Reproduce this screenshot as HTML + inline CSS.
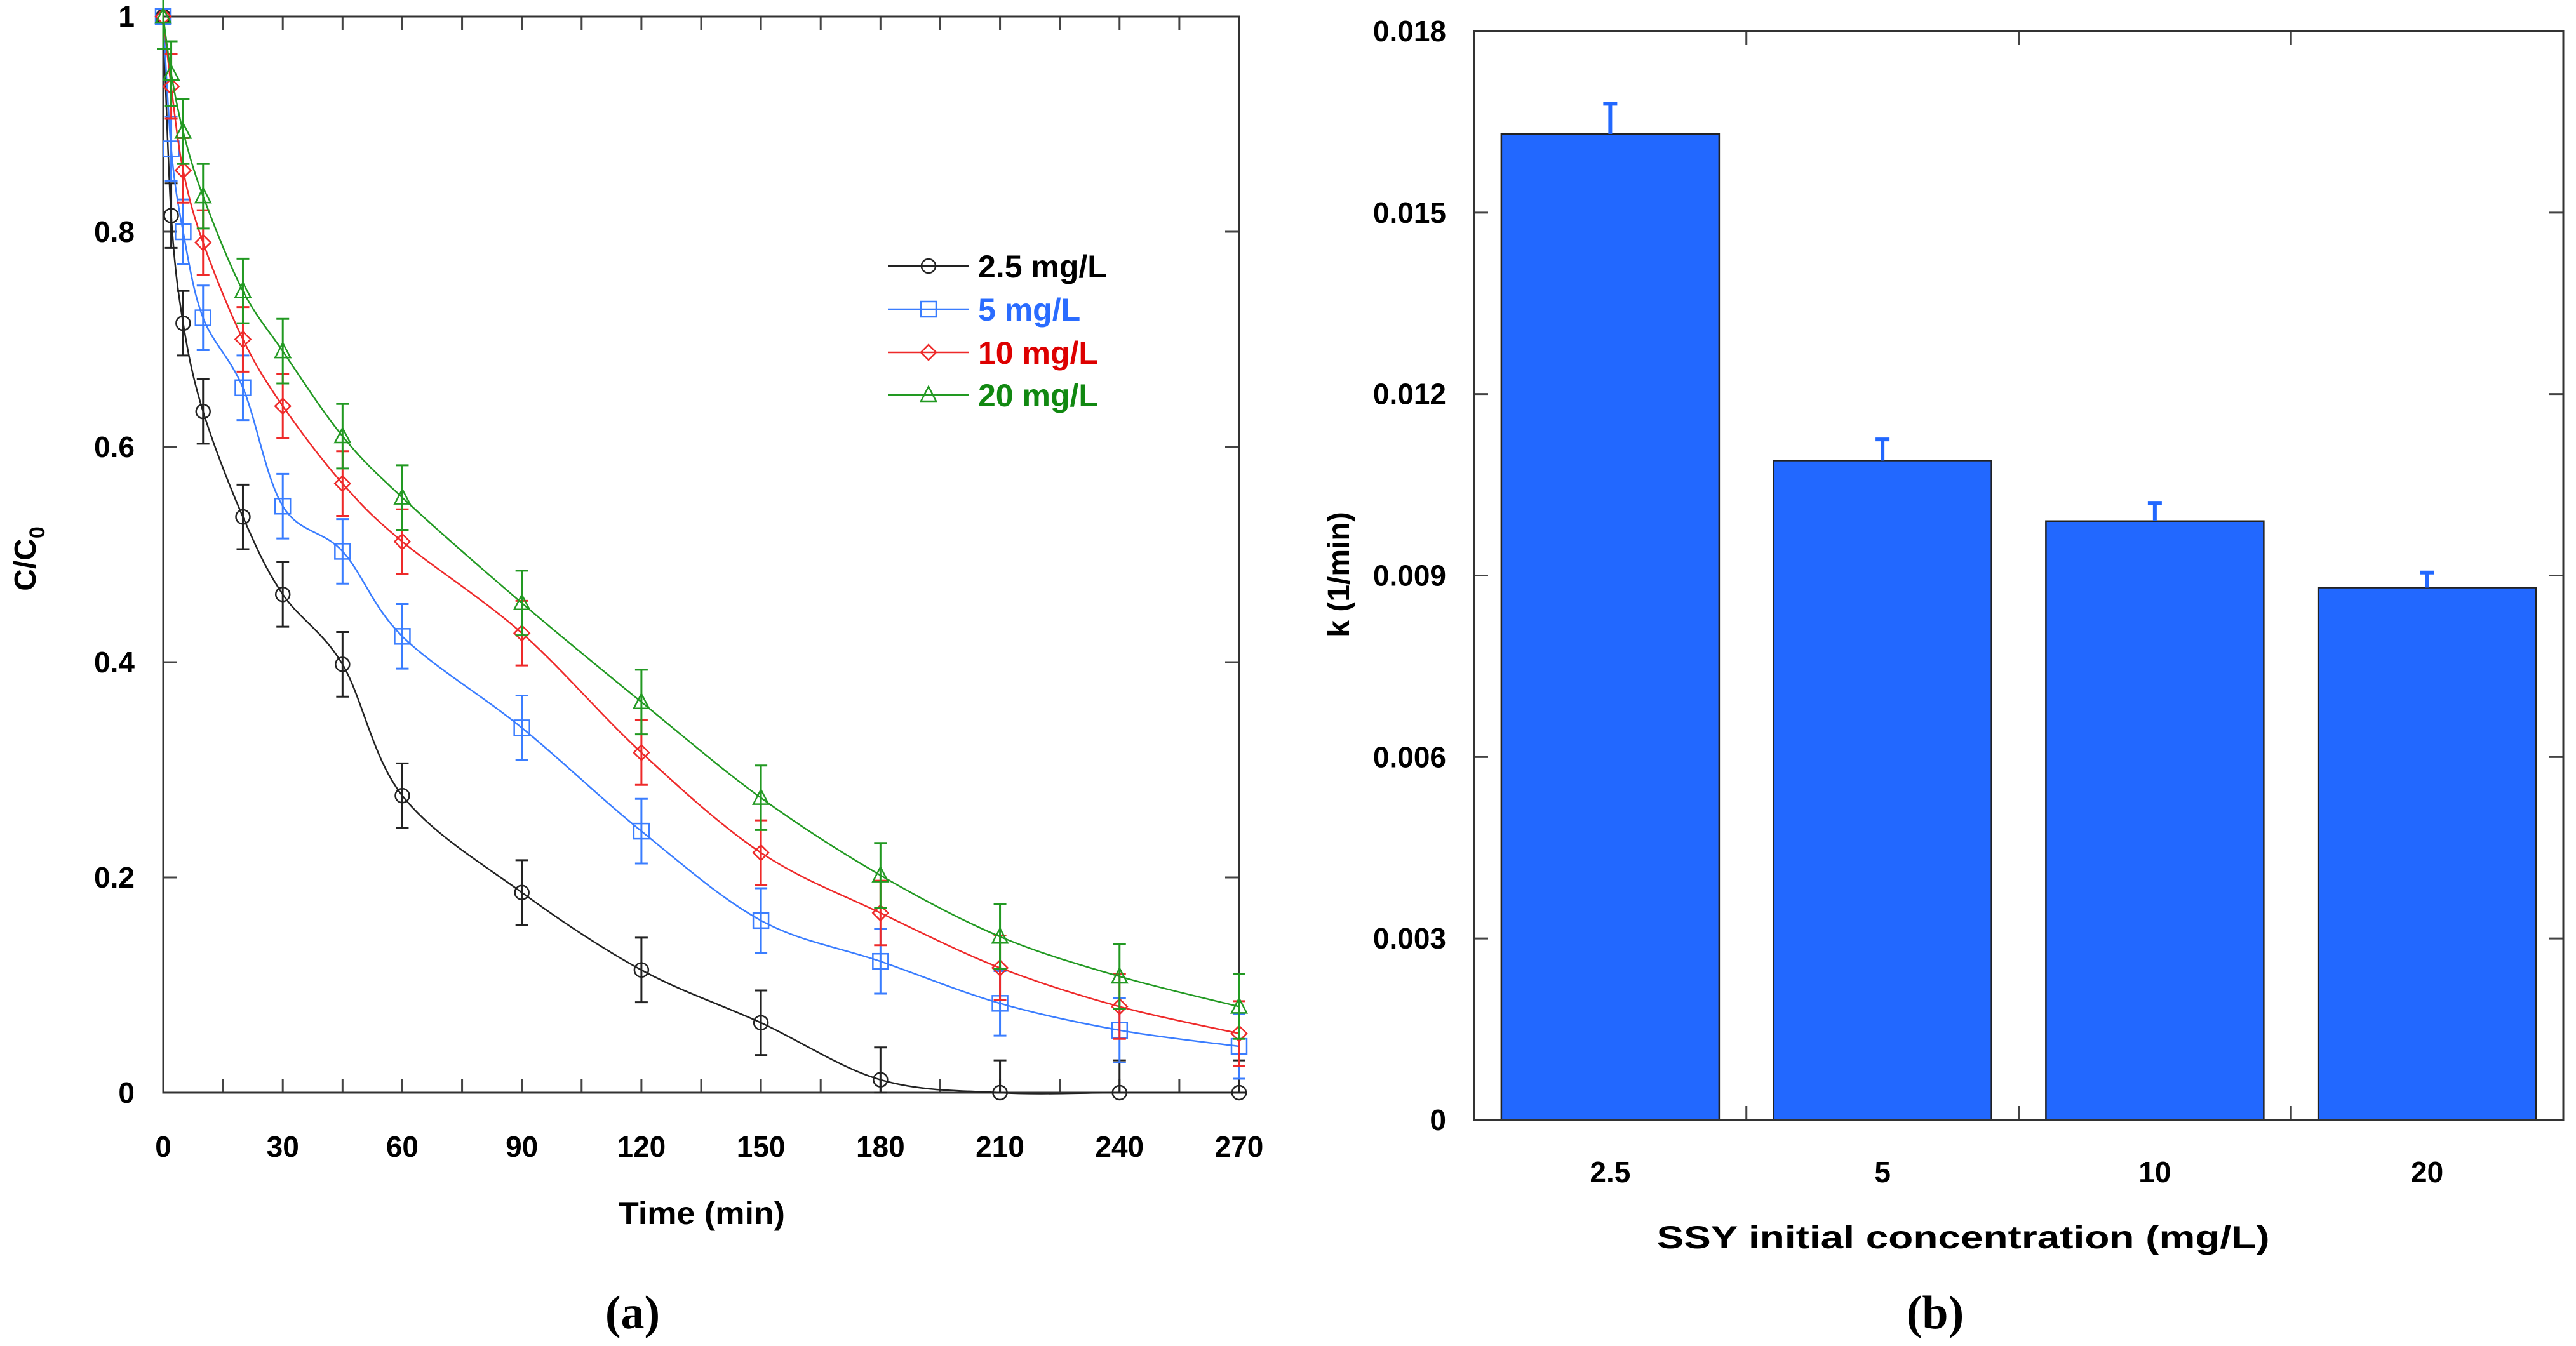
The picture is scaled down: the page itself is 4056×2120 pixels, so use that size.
<!DOCTYPE html>
<html><head><meta charset="utf-8"><style>
html,body{margin:0;padding:0;background:#fff;}
svg{display:block;font-family:"Liberation Sans",Arial,sans-serif;}
</style></head><body>
<svg id="fig" width="4056" height="2120" viewBox="0 0 4056 2120" xmlns="http://www.w3.org/2000/svg">
<g id="chartA"></g>
<g id="chartB"></g>
</svg>
<script>
// ---- Chart (a) data ----
const times = [0, 2, 5, 10, 20, 30, 45, 60, 90, 120, 150, 180, 210, 240, 270];
const series25 = [1, 0.815, 0.715, 0.633, 0.535, 0.463, 0.398, 0.276, 0.186, 0.114, 0.065, 0.012, 0, 0, 0];
const series5 = [1, 0.877, 0.80, 0.72, 0.655, 0.545, 0.503, 0.424, 0.339, 0.243, 0.16, 0.122, 0.083, 0.058, 0.043];
const series10 = [1, 0.935, 0.857, 0.79, 0.70, 0.638, 0.566, 0.512, 0.427, 0.316, 0.223, 0.167, 0.116, 0.080, 0.055];
const series20 = [1, 0.947, 0.893, 0.833, 0.745, 0.689, 0.610, 0.553, 0.455, 0.363, 0.274, 0.202, 0.145, 0.108, 0.080];
const errA = 0.03;
const seriesNames = ["2.5 mg/L", "5 mg/L", "10 mg/L", "20 mg/L"];
const xTicksA = [0, 30, 60, 90, 120, 150, 180, 210, 240, 270];
const yTicksA = [0, 0.2, 0.4, 0.6, 0.8, 1];
// ---- Chart (b) data ----
const categoriesB = ["2.5", "5", "10", "20"];
const valuesB = [0.0163, 0.0109, 0.0099, 0.0088];
const errorsB = [0.0005, 0.00035, 0.0003, 0.00025];
const yTicksB = [0, 0.003, 0.006, 0.009, 0.012, 0.015, 0.018];

const NS = "http://www.w3.org/2000/svg";
function mk(parent, tag, attrs, text) {
  const e = document.createElementNS(NS, tag);
  for (const k in attrs) e.setAttribute(k, attrs[k]);
  if (text !== undefined) e.textContent = text;
  parent.appendChild(e);
  return e;
}

// ===== Chart A =====
const A = document.getElementById('chartA');
const aL = 257, aR = 1951, aT = 26, aB = 1721;
const xA = t => aL + (t / 270) * (aR - aL);
const yA = v => aB - v * (aB - aT);
const colors = ["#222222", "#3a7dff", "#ee2a2a", "#229922"];
const textColors = ["#000000", "#2a6cff", "#dd0000", "#118811"];
const allSeries = [series25, series5, series10, series20];

for (let t = 0; t <= 270; t += 15) {
  const tk = mk(A, 'line', {x1: xA(t), x2: xA(t), y1: aB, y2: aB - 22, stroke: '#444', 'stroke-width': 3});
  
  
  const tk2 = mk(A, 'line', {x1: xA(t), x2: xA(t), y1: aT, y2: aT + 22, stroke: '#444', 'stroke-width': 3});
  
  
}
yTicksA.forEach(v => {
  const l1 = mk(A, 'line', {x1: aL, x2: aL + 22, y1: yA(v), y2: yA(v), stroke: '#444', 'stroke-width': 3});
  
  
  const l2 = mk(A, 'line', {x1: aR, x2: aR - 22, y1: yA(v), y2: yA(v), stroke: '#444', 'stroke-width': 3});
  
  
  const tx = mk(A, 'text', {x: 212, y: yA(v) + 16, 'text-anchor': 'end', 'font-size': 46, 'font-weight': 'bold'}, String(v));
  
  
});
xTicksA.forEach(t => {
  const tx = mk(A, 'text', {x: xA(t), y: 1822, 'text-anchor': 'middle', 'font-size': 46, 'font-weight': 'bold'}, String(t));
  
  
});
const frameA = mk(A, 'rect', {x: aL, y: aT, width: aR - aL, height: aB - aT, fill: 'none', stroke: '#333', 'stroke-width': 3});



function smoothPath(pts) {
  let d = `M${pts[0][0]},${pts[0][1]}`;
  for (let i = 0; i < pts.length - 1; i++) {
    const p0 = pts[i - 1] || pts[i], p1 = pts[i], p2 = pts[i + 1], p3 = pts[i + 2] || p2;
    const c1x = p1[0] + (p2[0] - p0[0]) / 6, c1y = p1[1] + (p2[1] - p0[1]) / 6;
    const c2x = p2[0] - (p3[0] - p1[0]) / 6, c2y = p2[1] - (p3[1] - p1[1]) / 6;
    d += ` C${c1x},${c1y} ${c2x},${c2y} ${p2[0]},${p2[1]}`;
  }
  return d;
}
function marker(g, k, x, y, c) {
  let m;
  if (k === 0) m = mk(g, 'circle', {cx: x, cy: y, r: 11, fill: 'none', stroke: c, 'stroke-width': 2.5});
  else if (k === 1) m = mk(g, 'rect', {x: x - 12, y: y - 12, width: 24, height: 24, fill: 'none', stroke: c, 'stroke-width': 2.5});
  else if (k === 2) m = mk(g, 'polygon', {points: `${x},${y - 12} ${x + 12},${y} ${x},${y + 12} ${x - 12},${y}`, fill: 'none', stroke: c, 'stroke-width': 2.5});
  else m = mk(g, 'polygon', {points: `${x},${y - 13} ${x + 12},${y + 10} ${x - 12},${y + 10}`, fill: 'none', stroke: c, 'stroke-width': 2.5});
  return m;
}
allSeries.forEach((s, k) => {
  const g = mk(A, 'g', {});
  
  
  const pts = s.map((v, i) => [xA(times[i]), yA(v)]);
  const p = mk(g, 'path', {d: smoothPath(pts), fill: 'none', stroke: colors[k], 'stroke-width': 2.5});
  
  
  s.forEach((v, i) => {
    const x = xA(times[i]);
    const eb = mk(g, 'path', {d: `M${x},${yA(v + errA)}V${yA(Math.max(v - errA, 0))}M${x - 10},${yA(v + errA)}h20M${x - 10},${yA(Math.max(v - errA, 0))}h20`, stroke: colors[k], 'stroke-width': 3, fill: 'none'});
    
    
    const m = marker(g, k, x, yA(v), colors[k]);
    
    
  });
});
const legY = [419, 487, 555, 622];
seriesNames.forEach((n, k) => {
  const g = mk(A, 'g', {});
  
  
  mk(g, 'line', {x1: 1398, x2: 1526, y1: legY[k], y2: legY[k], stroke: colors[k], 'stroke-width': 2.5});
  marker(g, k, 1462, legY[k], colors[k]);
  mk(g, 'text', {x: 1540, y: legY[k] + 18, 'font-size': 50, 'font-weight': 'bold', fill: textColors[k]}, n);
});
const xtA = mk(A, 'text', {x: 1105, y: 1928, 'text-anchor': 'middle', 'font-size': 50, 'font-weight': 'bold', textLength: 262, lengthAdjust: 'spacingAndGlyphs'}, 'Time (min)');


const ytA = mk(A, 'text', {transform: 'translate(56,880) rotate(-90)', 'text-anchor': 'middle', 'font-size': 48, 'font-weight': 'bold'});


mk(ytA, 'tspan', {}, 'C/C');
mk(ytA, 'tspan', {dy: 14, 'font-size': 34}, '0');
const capA = mk(A, 'text', {x: 996, y: 2092, 'text-anchor': 'middle', 'font-size': 74, 'font-weight': 'bold', 'font-family': '"Liberation Serif",serif'}, '(a)');



// ===== Chart B =====
const B = document.getElementById('chartB');
const bL = 2321, bR = 4036, bT = 49, bB = 1764;
const band = (bR - bL) / categoriesB.length;
const xB = i => bL + band * (i + 0.5);
const yB = v => bB - (v / 0.018) * (bB - bT);
yTicksB.forEach(v => {
  const l1 = mk(B, 'line', {x1: bL, x2: bL + 22, y1: yB(v), y2: yB(v), stroke: '#444', 'stroke-width': 3});
  
  
  const l2 = mk(B, 'line', {x1: bR, x2: bR - 22, y1: yB(v), y2: yB(v), stroke: '#444', 'stroke-width': 3});
  
  
  const tx = mk(B, 'text', {x: 2277, y: yB(v) + 16, 'text-anchor': 'end', 'font-size': 46, 'font-weight': 'bold'}, v === 0 ? '0' : v.toFixed(3));
  
  
});
for (let i = 1; i < categoriesB.length; i++) {
  const x = bL + band * i;
  const t1 = mk(B, 'line', {x1: x, x2: x, y1: bB, y2: bB - 22, stroke: '#444', 'stroke-width': 3});
  
  
  const t2 = mk(B, 'line', {x1: x, x2: x, y1: bT, y2: bT + 22, stroke: '#444', 'stroke-width': 3});
  
  
}
categoriesB.forEach((c, i) => {
  const bw = band * 0.8;
  const r = mk(B, 'rect', {x: xB(i) - bw / 2, y: yB(valuesB[i]), width: bw, height: bB - yB(valuesB[i]), fill: '#2268ff', stroke: '#222', 'stroke-width': 2.5});
  
  
  const e = mk(B, 'path', {d: `M${xB(i)},${yB(valuesB[i])}V${yB(valuesB[i] + errorsB[i])}M${xB(i) - 11},${yB(valuesB[i] + errorsB[i])}h22`, stroke: '#2268ff', 'stroke-width': 6, fill: 'none'});
  
  
  const tx = mk(B, 'text', {x: xB(i), y: 1862, 'text-anchor': 'middle', 'font-size': 46, 'font-weight': 'bold'}, c);
  
  
});
const frameB = mk(B, 'rect', {x: bL, y: bT, width: bR - bL, height: bB - bT, fill: 'none', stroke: '#333', 'stroke-width': 3});


const xtB = mk(B, 'text', {x: 3091, y: 1966, 'text-anchor': 'middle', 'font-size': 50, 'font-weight': 'bold', textLength: 965, lengthAdjust: 'spacingAndGlyphs'}, 'SSY initial concentration (mg/L)');


const ytB = mk(B, 'text', {transform: 'translate(2124,905) rotate(-90)', 'text-anchor': 'middle', 'font-size': 48, 'font-weight': 'bold'}, 'k (1/min)');


const capB = mk(B, 'text', {x: 3047, y: 2092, 'text-anchor': 'middle', 'font-size': 74, 'font-weight': 'bold', 'font-family': '"Liberation Serif",serif'}, '(b)');


</script>
</body></html>
